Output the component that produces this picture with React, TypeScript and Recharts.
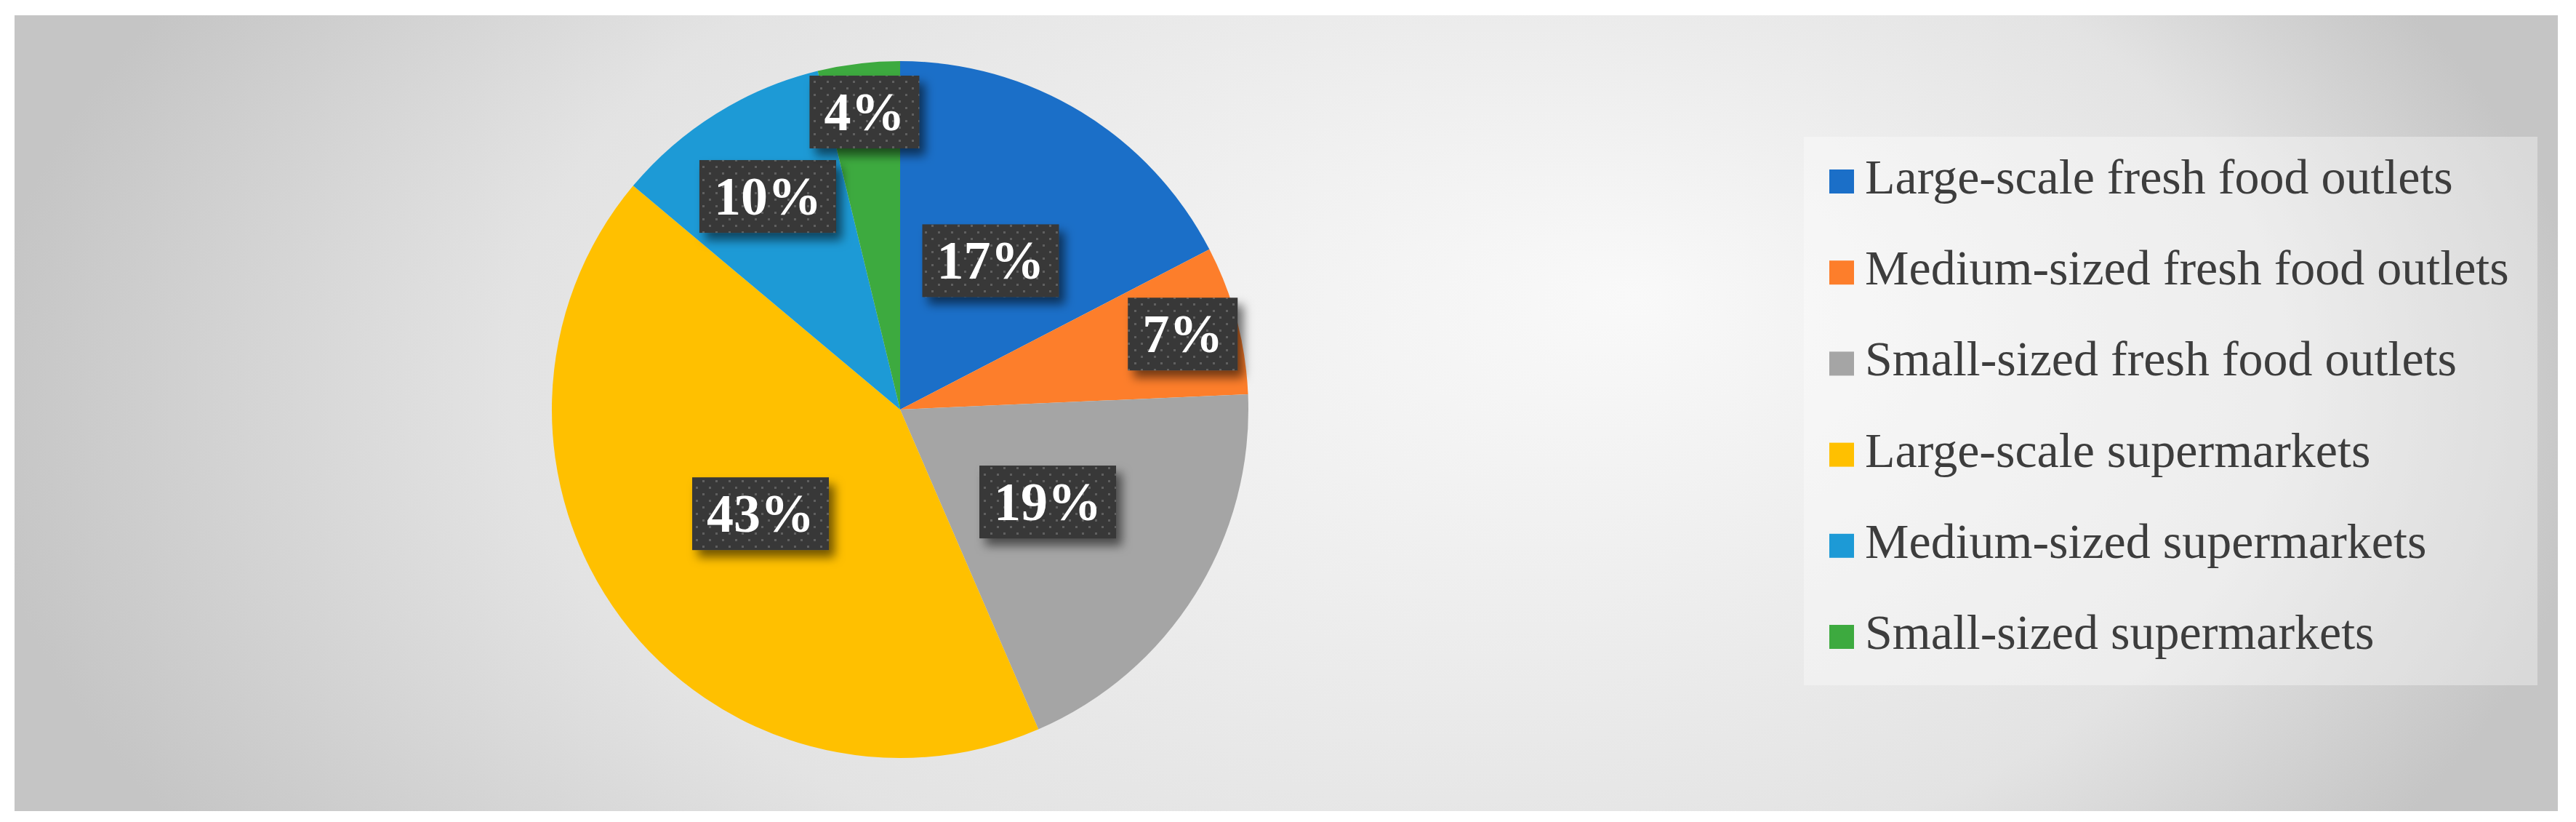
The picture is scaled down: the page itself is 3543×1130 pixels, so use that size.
import React from 'react';
import { PieChart, Pie, Cell, Legend } from 'recharts';

const CATEGORIES = [
  'Large-scale fresh food outlets',
  'Medium-sized fresh food outlets',
  'Small-sized fresh food outlets',
  'Large-scale supermarkets',
  'Medium-sized supermarkets',
  'Small-sized supermarkets',
];
const SHARES = [17.4, 6.9, 19.2, 42.6, 10.1, 3.8];
const COLORS = ['#1B6FC8', '#FD7E2B', '#A5A5A5', '#FFC000', '#1D9AD6', '#3DAA3F'];

const data = CATEGORIES.map((name, i) => ({ name, value: SHARES[i] }));

const W = 3543;
const H = 1130;
const FRAME = { x: 20, y: 21, w: 3498, h: 1094 };
const PIE = { cx: 1238, cy: 563, r: 479 };
const LEG = { x: 2481, y: 188, w: 1009, h: 754 };
const RAD = Math.PI / 180;
const FONT = '"Liberation Serif", "Times New Roman", serif';

function labelRadiusFactor(p: number) {
  if (p < 0.05) return 0.86;
  if (p < 0.08) return 0.84;
  if (p < 0.12) return 0.72;
  return 0.5;
}

const renderLabel = (props: any) => {
  const { cx, cy, midAngle, outerRadius, percent, index } = props;
  const r = outerRadius * labelRadiusFactor(percent);
  const x = cx + r * Math.cos(-midAngle * RAD);
  const y = cy + r * Math.sin(-midAngle * RAD);
  const text = `${Math.round(percent * 100)}%`;
  const fs = 74;
  const tw = (text.length - 1) * 0.5 * fs + fs;
  const bw = tw + 40;
  const bh = 100;
  return (
    <g key={`lbl-${index}`}>
      <rect x={x - bw / 2} y={y - bh / 2} width={bw} height={bh} fill="#383838" filter="url(#lblShadow)" />
      <rect x={x - bw / 2} y={y - bh / 2} width={bw} height={bh} fill="url(#lblDots)" />
      <text
        x={x}
        y={y + 25}
        textAnchor="middle"
        fontFamily={FONT}
        fontWeight="bold"
        fontSize={fs}
        fill="#ffffff"
      >
        {text}
      </text>
    </g>
  );
};

const renderLegend = (props: any) => {
  const payload = props.payload || [];
  return (
    <svg width={LEG.w} height={LEG.h} style={{ display: 'block', overflow: 'visible' }}>
      {CATEGORIES.map((name, i) => {
        const entry = payload.find((p: any) => p.value === name);
        const color = COLORS[i] || (entry && entry.color);
        const base = 78 + i * 125.2;
        return (
          <g key={`leg-${i}`}>
            <rect x={35} y={base - 33} width={34} height={33} fill={color} />
            <text x={84} y={base} fontFamily={FONT} fontSize={68} fill="#3d3d3d">
              {entry ? entry.value : name}
            </text>
          </g>
        );
      })}
    </svg>
  );
};

export default function App() {
  return (
    <div style={{ position: 'absolute', left: 0, top: 0, width: W, height: H, background: '#ffffff' }}>
      <svg width={W} height={H} style={{ position: 'absolute', left: 0, top: 0 }}>
        <defs>
          <radialGradient
            id="bgGrad"
            gradientUnits="userSpaceOnUse"
            cx={1770}
            cy={565}
            r={1800}
            fx={2250}
            fy={300}
            gradientTransform="translate(0 226) scale(1 0.6)"
          >
            <stop offset="0" stopColor="#f9f9f9" />
            <stop offset="0.68" stopColor="#e3e3e3" />
            <stop offset="1" stopColor="#c5c5c5" />
          </radialGradient>
          <pattern id="lblDots" width={18} height={18} patternUnits="userSpaceOnUse">
            <rect x={3} y={3} width={3} height={3} fill="rgba(255,255,255,0.2)" />
            <rect x={12} y={12} width={3} height={3} fill="rgba(255,255,255,0.2)" />
          </pattern>
          <filter id="lblShadow" x="-30%" y="-40%" width="170%" height="190%">
            <feDropShadow dx={8} dy={10} stdDeviation={7} floodColor="#000000" floodOpacity={0.55} />
          </filter>
        </defs>
        <rect x={FRAME.x} y={FRAME.y} width={FRAME.w} height={FRAME.h} fill="url(#bgGrad)" />
        <rect x={LEG.x} y={LEG.y} width={LEG.w} height={LEG.h} fill="rgba(255,255,255,0.35)" />
      </svg>
      <div style={{ position: 'absolute', left: 0, top: 0 }}>
        <PieChart width={W} height={H} margin={{ top: 0, right: 0, bottom: 0, left: 0 }}>
          <Pie
            data={data}
            dataKey="value"
            nameKey="name"
            cx={PIE.cx}
            cy={PIE.cy}
            outerRadius={PIE.r}
            startAngle={90}
            endAngle={-270}
            stroke="none"
            label={renderLabel}
            labelLine={false}
            isAnimationActive={false}
          >
            {data.map((d, i) => (
              <Cell key={d.name} fill={COLORS[i]} stroke="none" />
            ))}
          </Pie>
          <Legend
            layout="vertical"
            align="right"
            verticalAlign="middle"
            content={renderLegend}
            wrapperStyle={{ position: 'absolute', left: LEG.x, top: LEG.y, width: LEG.w, height: LEG.h, right: 'auto', bottom: 'auto' }}
          />
        </PieChart>
      </div>
    </div>
  );
}
